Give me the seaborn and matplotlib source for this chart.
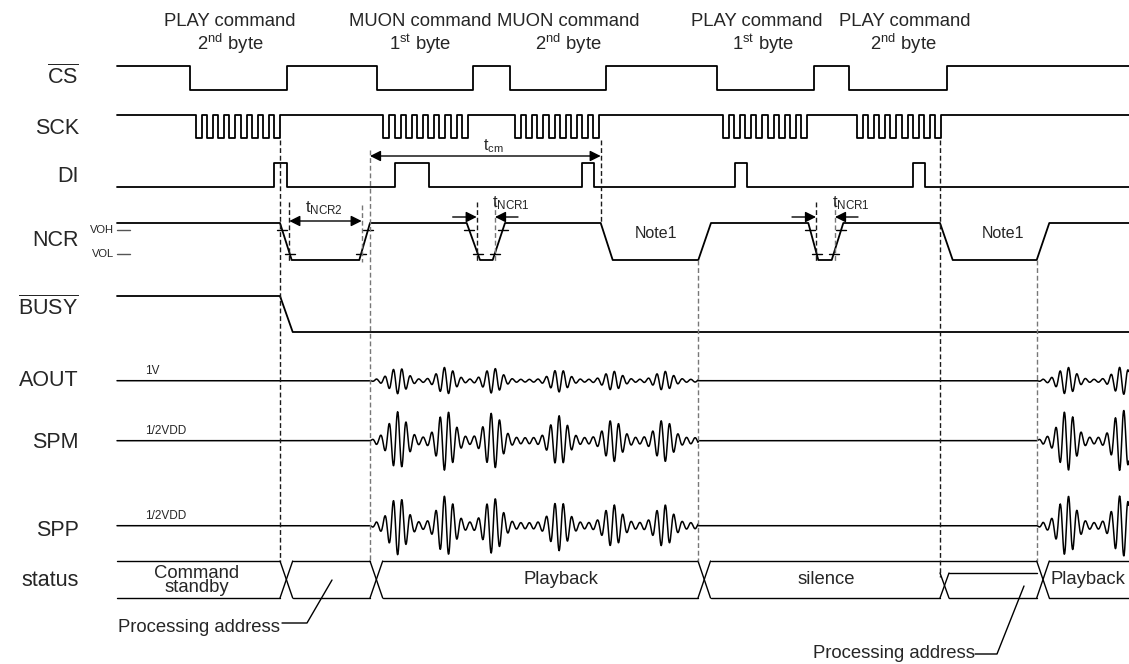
import numpy as np
import pandas as pd
import matplotlib
matplotlib.use("Agg")
import matplotlib.pyplot as plt
import seaborn as sns

W, H = 1129, 664
x_start, x_end = 117, 1129

# row labels on the left
signal_names = [r"$\overline{\mathregular{CS}}$", "SCK", "DI", "NCR",
                r"$\overline{\mathregular{BUSY}}$", "AOUT", "SPM", "SPP", "status"]
label_y = [77, 128, 177, 240, 308, 380, 443, 530, 581]

# command headers
header_top = ["PLAY command", "MUON command", "MUON command", "PLAY command", "PLAY command"]
header_bottom = [r"2$^{\mathregular{nd}}$ byte", r"1$^{\mathregular{st}}$ byte",
                 r"2$^{\mathregular{nd}}$ byte", r"1$^{\mathregular{st}}$ byte",
                 r"2$^{\mathregular{nd}}$ byte"]
header_x = [230, 420, 568, 757, 905]
header_x2 = [230, 420, 568, 763, 903]

# CS
cs_hi, cs_lo = 66, 90
cs_edges = [190, 286.7, 376.7, 473.3, 510, 606, 717.3, 814.3, 849.3, 946.7]

# SCK bursts (8 clocks each)
sck_hi, sck_lo = 115, 138
sck_burst_start = [195.7, 383.3, 515, 722.7, 856.7]
sck_pulses = 8
sck_period = 11.2
sck_low_w = 6

# DI pulses
di_hi, di_lo = 163, 187
di_pulses = [(274.3, 286.7), (395, 429), (582.3, 594.3), (735, 747.3), (913.3, 925)]

# NCR pulses: fall start, fall end, rise start, rise end
ncr_hi, ncr_lo = 223, 260
voh_y, vol_y = 230, 254
ncr_pulses = [(280, 291.7, 359.3, 370), (466.7, 480, 492.7, 505),
              (600.7, 612.7, 698.3, 711), (808.3, 818.3, 831.7, 843.3),
              (940, 952.7, 1036.7, 1049.3)]
ncr_ticked = [0, 1, 3]

# BUSY
busy_hi, busy_lo = 296, 332
busy_fall = (280, 292.7)

# analog outputs
analog_names = ["AOUT", "SPM", "SPP"]
analog_base = [380.7, 440.7, 525.7]
analog_scale = [0.45, -1.0, 1.0]
analog_ref = ["1V", "1/2VDD", "1/2VDD"]
play_windows = [(370, 698.3), (1036.7, 1129)]
burst_centers = [398, 446, 493, 559, 613, 664, 1067, 1122]
burst_amps = [26, 27, 25, 22, 18, 18, 27, 28]
burst_sigma = 8
carrier_period = 8.5

# status bus
st_top, st_bot = 561, 598
st_cross = [(280, 292.7), (370, 382.7), (698, 710.5), (1036.7, 1049.3)]
st_text = ["Playback", "silence", "Playback"]
st_text_x = [561, 826, 1088]

# dashed guides: x, y0, y1, colour
guides = [(280, 140, 561, "k"), (370, 150, 561, "#777777"), (600.7, 140, 223, "k"),
          (698.3, 260, 561, "#777777"), (940, 140, 577, "k"), (1036.7, 260, 561, "#777777"),
          (289.3, 202, 262, "k"), (361.7, 205, 262, "#777777"), (476.7, 202, 262, "k"),
          (495, 202, 262, "#777777"), (816, 202, 262, "k"), (835, 202, 262, "#777777")]

sns.set_theme(style="white")
plt.rcParams["font.family"] = ["Liberation Sans", "DejaVu Sans"]
plt.rcParams["mathtext.fontset"] = "custom"
plt.rcParams["mathtext.rm"] = "Liberation Sans"
plt.rcParams["mathtext.it"] = "Liberation Sans:italic"
plt.rcParams["mathtext.bf"] = "Liberation Sans:bold"

fig = plt.figure(figsize=(W / 100, H / 100), dpi=100)
ax = fig.add_axes([0, 0, 1, 1])
ax.set_xlim(0, W)
ax.set_ylim(H, 0)
ax.axis("off")

LW = 1.3


def trace(xs, ys, lw=LW, color="black"):
    df = pd.DataFrame({"x": xs, "y": ys})
    sns.lineplot(data=df, x="x", y="y", estimator=None, sort=False,
                 color=color, lw=lw, ax=ax)


def digital(edges, hi, lo, start_high=True):
    xs, ys = [x_start], [hi if start_high else lo]
    level = start_high
    for e in edges:
        xs += [e, e]
        ys += [hi if level else lo, lo if level else hi]
        level = not level
    xs.append(x_end)
    ys.append(hi if level else lo)
    return xs, ys


# labels
for name, y in zip(signal_names, label_y):
    ax.text(79, y, name, ha="right", va="center", fontsize=15.5)

for t, x in zip(header_top, header_x):
    ax.text(x, 26, t, ha="center", va="baseline", fontsize=13.3)
for t, x in zip(header_bottom, header_x2):
    ax.text(x, 50, t, ha="center", va="baseline", fontsize=13.3)

# CS
trace(*digital(cs_edges, cs_hi, cs_lo))

# SCK
sck_edges = []
for s in sck_burst_start:
    for k in range(sck_pulses):
        sck_edges += [s + k * sck_period, s + k * sck_period + sck_low_w]
trace(*digital(sck_edges, sck_hi, sck_lo))

# DI
trace(*digital([e for p in di_pulses for e in p], di_hi, di_lo, start_high=False))

# NCR
nx, ny = [x_start], [ncr_hi]
for a, b, c, d in ncr_pulses:
    nx += [a, b, c, d]
    ny += [ncr_hi, ncr_lo, ncr_lo, ncr_hi]
nx.append(x_end)
ny.append(ncr_hi)
trace(nx, ny)


def cross(x0, y0, x1, y1, y):
    return x0 + (y - y0) / (y1 - y0) * (x1 - x0)


for i in ncr_ticked:
    a, b, c, d = ncr_pulses[i]
    for lvl in (voh_y, vol_y):
        for xc in (cross(a, ncr_hi, b, ncr_lo, lvl), cross(c, ncr_lo, d, ncr_hi, lvl)):
            ax.plot([xc - 5, xc + 5], [lvl, lvl], color="black", lw=1)

ax.plot([117, 130], [voh_y, voh_y], color="#555555", lw=1)
ax.plot([117, 130], [vol_y, vol_y], color="#555555", lw=1)
ax.text(114, voh_y, "VOH", ha="right", va="center", fontsize=8)
ax.text(114, vol_y, "VOL", ha="right", va="center", fontsize=8)
ax.text(656, 233, "Note1", ha="center", va="center", fontsize=11.5)
ax.text(1003, 233, "Note1", ha="center", va="center", fontsize=11.5)

# BUSY
trace([x_start, busy_fall[0], busy_fall[1], x_end], [busy_hi, busy_hi, busy_lo, busy_lo])

# analog outputs
for base, scale, ref in zip(analog_base, analog_scale, analog_ref):
    xs = [np.array([x_start])]
    ys = [np.array([base])]
    prev = x_start
    for w0, w1 in play_windows:
        xs.append(np.array([prev, w0]))
        ys.append(np.array([base, base]))
        xw = np.arange(w0, w1, 0.4)
        env = 3.0 + np.zeros_like(xw)
        for c, amp in zip(burst_centers, burst_amps):
            env += amp * np.exp(-0.5 * ((xw - c) / burst_sigma) ** 2)
        env *= np.clip((xw - w0) / 6, 0, 1)
        xs.append(xw)
        ys.append(base + scale * env * np.sin(2 * np.pi * (xw - w0) / carrier_period))
        prev = w1
    if prev < x_end:
        xs.append(np.array([prev, x_end]))
        ys.append(np.array([base, base]))
    trace(np.concatenate(xs), np.concatenate(ys), lw=1.1)
    ax.text(145, base - 10, ref, ha="left", va="center", fontsize=8.5)

# status bus
segs = [x_start] + [v for c in st_cross for v in c] + [x_end]
for i in range(0, len(segs), 2):
    x0, x1 = segs[i], segs[i + 1]
    bot_end = x1 if x1 != 1036.7 else 940
    ax.plot([x0, x1], [st_top, st_top], color="black", lw=1)
    ax.plot([x0, bot_end], [st_bot, st_bot], color="black", lw=1)
for c0, c1 in st_cross:
    ax.plot([c0, c1], [st_top, st_bot], color="black", lw=1)
    ax.plot([c0, c1], [st_bot, st_top], color="black", lw=1)
# inner processing box before second playback
ax.plot([940, 949], [st_bot, 573], color="black", lw=1)
ax.plot([940, 949], [573, st_bot], color="black", lw=1)
ax.plot([949, 1036.7], [573, 573], color="black", lw=1)
ax.plot([949, 1036.7], [st_bot, st_bot], color="black", lw=1)

for t, x in zip(st_text, st_text_x):
    ax.text(x, 580, t, ha="center", va="center", fontsize=13.3)
ax.text(197, 573, "Command", ha="center", va="center", fontsize=13.3)
ax.text(197, 588, "standby", ha="center", va="center", fontsize=13.3)

# processing address callouts
ax.text(118, 627, "Processing address", ha="left", va="center", fontsize=13.3)
ax.plot([282, 307, 332], [623, 623, 580], color="black", lw=1)
ax.text(975, 653, "Processing address", ha="right", va="center", fontsize=13.3)
ax.plot([975, 997, 1024], [654, 654, 586], color="black", lw=1)

# dashed guides
for x, y0, y1, col in guides:
    ax.plot([x, x], [y0, y1], color=col, lw=1, linestyle=(0, (3.5, 2)))

# timing arrows
arrow = dict(arrowstyle="<|-|>", color="black", lw=1, mutation_scale=16, shrinkA=0, shrinkB=0)
single = dict(arrowstyle="-|>", color="black", lw=1, mutation_scale=16, shrinkA=0, shrinkB=0)
ax.annotate("", xy=(370, 156), xytext=(600.7, 156), arrowprops=arrow)
ax.text(493, 146, r"$\mathregular{t_{cm}}$", ha="center", va="center", fontsize=11.5)
ax.annotate("", xy=(289.3, 221), xytext=(361.7, 221), arrowprops=arrow)
ax.text(324, 208, r"$\mathregular{t_{NCR2}}$", ha="center", va="center", fontsize=12)
for left, right, lx in [(476.7, 495, 511), (816, 835, 851)]:
    ax.annotate("", xy=(left, 217), xytext=(left - 24, 217), arrowprops=single)
    ax.annotate("", xy=(right, 217), xytext=(right + 23, 217), arrowprops=single)
    ax.text(lx, 203, r"$\mathregular{t_{NCR1}}$", ha="center", va="center", fontsize=12)

fig.savefig("out.png", dpi=100)
plt.close(fig)
